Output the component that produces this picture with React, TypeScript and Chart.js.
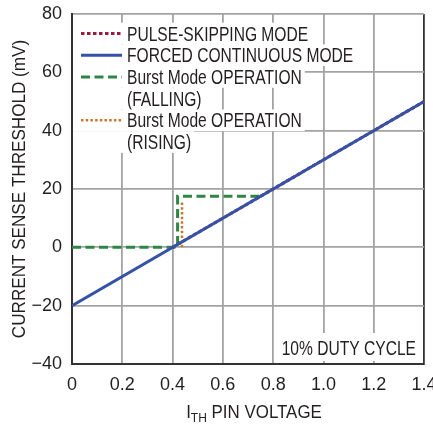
import React, { useEffect, useRef } from 'react';
import { Chart, registerables } from 'chart.js';

Chart.register(...registerables);

const FONT = "'Liberation Sans', Arial, sans-serif";
const TEXT = '#231f20';

// Tick labels
const xTickLabels = ['0', '0.2', '0.4', '0.6', '0.8', '1.0', '1.2', '1.4'];
const yTickLabels = ['−40', '−20', '0', '20', '40', '60', '80'];

// Series (x in V, y in mV)
const pulseX = [0.4, 1.4];
const pulseY = [0, 50];
const forcedX = [0, 1.4];
const forcedY = [-20, 50];
const fallingX = [0, 0.42, 0.42, 0.75];
const fallingY = [0, 0, 17.5, 17.5];
const risingX = [0.4375, 0.4375];
const risingY = [0, 16];

const seriesNames = [
  'PULSE-SKIPPING MODE',
  'FORCED CONTINUOUS MODE',
  'Burst Mode OPERATION\n(FALLING)',
  'Burst Mode OPERATION\n(RISING)',
];
const seriesColors = ['#9b1b3c', '#3552a8', '#2e8545', '#c8782f'];
const seriesDash = [[3.5, 2.5], [], [9, 4.5], [2.5, 2.2]];
const seriesWidth = [3, 3, 3, 2.5];

const xTitleMain = 'I';
const xTitleSub = 'TH';
const xTitleRest = ' PIN VOLTAGE';
const yTitle = 'CURRENT SENSE THRESHOLD (mV)';
const noteText = '10% DUTY CYCLE';

const toPts = (xs: number[], ys: number[]) => xs.map((x, i) => ({ x, y: ys[i] }));

function drawCond(ctx: CanvasRenderingContext2D, text: string, x: number, y: number, size: number, sx: number, align: 'left' | 'right' | 'center') {
  ctx.font = `${size}px ${FONT}`;
  const w = ctx.measureText(text).width * sx;
  let x0 = x;
  if (align === 'right') x0 = x - w;
  else if (align === 'center') x0 = x - w / 2;
  ctx.save();
  ctx.translate(x0, y);
  ctx.scale(sx, 1);
  ctx.textAlign = 'left';
  ctx.textBaseline = 'alphabetic';
  ctx.fillText(text, 0, 0);
  ctx.restore();
  return w;
}

function condWidth(ctx: CanvasRenderingContext2D, text: string, size: number, sx: number) {
  ctx.font = `${size}px ${FONT}`;
  return ctx.measureText(text).width * sx;
}

const overlayPlugin = {
  id: 'overlay',
  afterDraw(chart: any) {
    const { ctx, chartArea } = chart;
    const { left, right, top, bottom } = chartArea;
    ctx.save();

    // Legend
    const rowH = 21.7;
    const LS = 19.5;
    const LX = 0.8;
    let y = top + 19.5;
    const sx0 = left + 9;
    const sx1 = left + 50;
    const tx = left + 55;
    chart.data.datasets.forEach((ds: any, i: number) => {
      const lines = String(ds.label).split('\n');
      lines.forEach((line: string, j: number) => {
        const w = condWidth(ctx, line, LS, LX);
        ctx.fillStyle = '#ffffff';
        ctx.fillRect(left + 1, y - rowH / 2, tx + w + 3 - left - 1, rowH);
        if (j === 0) {
          ctx.beginPath();
          ctx.strokeStyle = seriesColors[i];
          ctx.lineWidth = seriesWidth[i];
          ctx.setLineDash(seriesDash[i]);
          ctx.lineCap = 'butt';
          ctx.moveTo(sx0, y);
          ctx.lineTo(sx1, y);
          ctx.stroke();
          ctx.setLineDash([]);
        }
        ctx.fillStyle = TEXT;
        drawCond(ctx, line, tx, y + 7, LS, LX, 'left');
        y += rowH;
      });
    });

    // Duty cycle note
    const nw = condWidth(ctx, noteText, 19.5, 0.8);
    ctx.fillStyle = '#ffffff';
    ctx.fillRect(right - 8 - nw - 5, bottom - 31, nw + 10, 28);
    ctx.fillStyle = TEXT;
    drawCond(ctx, noteText, right - 8, bottom - 9, 19.5, 0.8, 'right');

    // X title with subscript
    const XS = 0.89;
    const w1 = condWidth(ctx, xTitleMain, 19, XS);
    const w2 = condWidth(ctx, xTitleSub, 13.5, XS);
    const w3 = condWidth(ctx, xTitleRest, 19, XS);
    const total = w1 + w2 + w3;
    const cx = (left + right) / 2 + 6;
    let x = cx - total / 2;
    const base = 418;
    ctx.fillStyle = TEXT;
    drawCond(ctx, xTitleMain, x, base, 19, XS, 'left');
    x += w1;
    drawCond(ctx, xTitleSub, x, base + 4, 13.5, XS, 'left');
    x += w2;
    drawCond(ctx, xTitleRest, x, base, 19, XS, 'left');

    // Y title (rotated)
    ctx.save();
    ctx.translate(24.5, (top + bottom) / 2);
    ctx.rotate(-Math.PI / 2);
    drawCond(ctx, yTitle, 0, 0, 19, 0.9, 'center');
    ctx.restore();

    ctx.restore();
  },
};

export default function App() {
  const ref = useRef<HTMLCanvasElement | null>(null);
  useEffect(() => {
    if (!ref.current) return;
    const data = [
      toPts(pulseX, pulseY),
      toPts(forcedX, forcedY),
      toPts(fallingX, fallingY),
      toPts(risingX, risingY),
    ];
    const orders = [1, 0, 2, 3];
    const chart = new Chart(ref.current, {
      type: 'line',
      data: {
        datasets: data.map((d, i) => ({
          label: seriesNames[i],
          data: d,
          borderColor: seriesColors[i],
          borderWidth: seriesWidth[i],
          borderDash: seriesDash[i],
          borderCapStyle: 'butt',
          pointRadius: 0,
          fill: false,
          tension: 0,
          order: orders[i],
        })),
      },
      options: {
        animation: false,
        responsive: false,
        events: [],
        layout: { padding: { left: 0, right: 9, top: 14, bottom: 0 } },
        plugins: {
          legend: { display: false },
          tooltip: { enabled: false },
        },
        scales: {
          x: {
            type: 'linear',
            min: 0,
            max: 1.4,
            ticks: {
              stepSize: 0.2,
              autoSkip: false,
              maxRotation: 0,
              padding: 10,
              color: TEXT,
              font: { family: FONT, size: 18 },
              callback: (_v: any, i: number) => xTickLabels[i] ?? '',
            },
            grid: {
              drawTicks: false,
              lineWidth: 1.8,
              color: (c: any) =>
                c.tick && Math.abs(c.tick.value - 1.4) < 1e-6 ? '#333333' : '#a3a3a3',
            },
            border: { display: true, color: '#333333', width: 2 },
            afterFit: (s: any) => {
              s.height = 61;
              s.paddingLeft = 0;
              s.paddingRight = 0;
            },
          },
          y: {
            type: 'linear',
            min: -40,
            max: 80,
            ticks: {
              stepSize: 20,
              padding: 10,
              color: TEXT,
              font: { family: FONT, size: 18 },
              callback: (_v: any, i: number) => yTickLabels[i] ?? '',
            },
            grid: {
              drawTicks: false,
              lineWidth: 1.8,
              color: '#a3a3a3',
            },
            border: { display: true, color: '#333333', width: 2 },
            afterFit: (s: any) => {
              s.width = 72;
              s.paddingTop = 0;
              s.paddingBottom = 0;
            },
          },
        },
      },
      plugins: [overlayPlugin],
    } as any);
    return () => chart.destroy();
  }, []);

  return (
    <div style={{ position: 'fixed', left: 0, top: 0, width: 433, height: 425, background: '#fff' }}>
      <canvas ref={ref} width={433} height={425} style={{ display: 'block' }} />
    </div>
  );
}
